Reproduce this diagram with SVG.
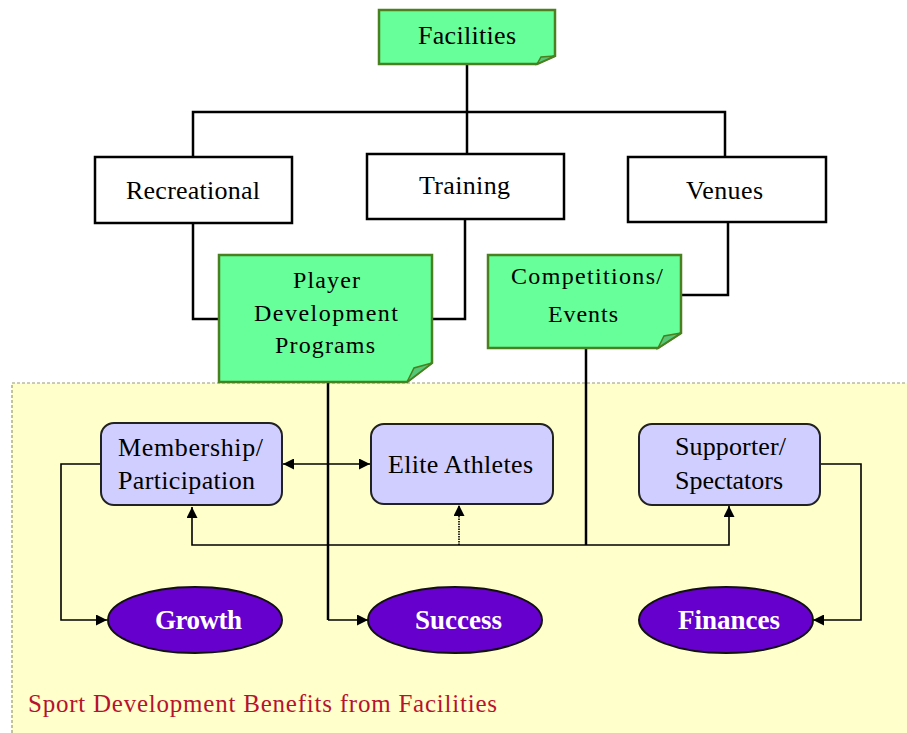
<svg xmlns="http://www.w3.org/2000/svg" width="907" height="733" viewBox="0 0 907 733">
  <style>
    .lbl { font-family: "Liberation Serif", "Times New Roman", serif; font-size: 26px; fill: #000; }
    .sm { font-size: 24px; }
    .oval-lbl { font-family: "Liberation Serif", "Times New Roman", serif; font-size: 27px; font-weight: bold; fill: #fff; }
    .cap { font-family: "Liberation Serif", "Times New Roman", serif; font-size: 25px; fill: #b8122e; }
    .plain { fill: #fff; stroke: #000; stroke-width: 2.5; }
    .note { fill: #66ff99; stroke: #4a8020; stroke-width: 2.5; stroke-linejoin: miter; }
    .fold { fill: #55c878; stroke: #4a8020; stroke-width: 1.5; }
    .soft { fill: #d0ceff; stroke: #222; stroke-width: 2; }
    .oval { fill: #6600cc; stroke: #111; stroke-width: 2; }
    .wire { fill: none; stroke: #000; stroke-width: 2.5; }
    .thin { fill: none; stroke: #000; stroke-width: 1.6; }
  </style>
  <defs>
    <marker id="arrow" viewBox="0 0 10 10" refX="10" refY="5" markerWidth="12" markerHeight="11" markerUnits="userSpaceOnUse" orient="auto-start-reverse">
      <path d="M0,0 L10,5 L0,10 z" fill="#000"/>
    </marker>
  </defs>

  <rect width="907" height="733" fill="#fff"/>

  <!-- benefits panel -->
  <rect id="panel" x="12" y="383" width="905" height="360" fill="#ffffcc" stroke="#999977" stroke-width="1.2" stroke-dasharray="3 2"/>

  <g id="connectors">
    <!-- upper tree -->
    <path class="wire" d="M467,64 V154"/>
    <path class="wire" d="M193,157 V112 H725 V157"/>
    <path class="wire" d="M193,223 V319 H220"/>
    <path class="wire" d="M465,219 V319 H432"/>
    <path class="wire" d="M728,222 V295 H681"/>
    <!-- programs / events drops -->
    <path class="wire" d="M328,382 V620" stroke-width="2"/>
    <path class="thin" d="M328,620 H368" marker-end="url(#arrow)"/>
    <path class="wire" d="M586,348 V545" stroke-width="2"/>
    <!-- membership to elite -->
    <path class="thin" d="M283,464 H370" marker-start="url(#arrow)" marker-end="url(#arrow)"/>
    <!-- shared feed -->
    <path class="thin" d="M192,507 V545 H729 V506" marker-start="url(#arrow)" marker-end="url(#arrow)"/>
    <path class="thin" d="M459,545 V505" stroke-dasharray="1.5 1" marker-end="url(#arrow)"/>
    <!-- outcomes -->
    <path class="thin" d="M101,464 H61 V620 H107" marker-end="url(#arrow)"/>
    <path class="thin" d="M820,464 H861 V620 H813" marker-end="url(#arrow)"/>
  </g>

  <g id="facilities">
    <path class="note" d="M379,10 H555 V56 L537,64 H379 Z"/>
    <path class="fold" d="M537,64 L541,57 L555,56 Z"/>
    <text class="lbl" x="418" y="44" textLength="98">Facilities</text>
  </g>

  <g id="recreational">
    <rect class="plain" x="95" y="157" width="197" height="66"/>
    <text class="lbl" x="126" y="199" textLength="134">Recreational</text>
  </g>

  <g id="training">
    <rect class="plain" x="367" y="154" width="197" height="65"/>
    <text class="lbl" x="419" y="194" textLength="91">Training</text>
  </g>

  <g id="venues">
    <rect class="plain" x="628" y="157" width="198" height="65"/>
    <text class="lbl" x="686" y="199" textLength="77">Venues</text>
  </g>

  <g id="programs">
    <path class="note" d="M219,255 H432 V363 L407,382 H219 Z"/>
    <path class="fold" d="M407,382 L414,368 L432,363 Z"/>
    <text class="lbl sm" x="293" y="288" textLength="67">Player</text>
    <text class="lbl sm" x="254" y="321" textLength="144">Development</text>
    <text class="lbl sm" x="275" y="353" textLength="100">Programs</text>
  </g>

  <g id="events">
    <path class="note" d="M488,255 H681 V333 L658,348 H488 Z"/>
    <path class="fold" d="M658,348 L664,336 L681,333 Z"/>
    <text class="lbl sm" x="511" y="284" textLength="152">Competitions/</text>
    <text class="lbl sm" x="548" y="322" textLength="70">Events</text>
  </g>

  <g id="membership">
    <rect class="soft" x="101" y="423" width="181" height="82" rx="13"/>
    <text class="lbl" x="118" y="456" textLength="145">Membership/</text>
    <text class="lbl" x="118" y="489" textLength="137">Participation</text>
  </g>

  <g id="elite">
    <rect class="soft" x="371" y="424" width="182" height="80" rx="13"/>
    <text class="lbl" x="388" y="473" textLength="145">Elite Athletes</text>
  </g>

  <g id="supporters">
    <rect class="soft" x="639" y="424" width="181" height="81" rx="13"/>
    <text class="lbl" x="675" y="455" textLength="111">Supporter/</text>
    <text class="lbl" x="675" y="489" textLength="108">Spectators</text>
  </g>

  <g id="growth">
    <ellipse class="oval" cx="195" cy="620" rx="87" ry="33"/>
    <text class="oval-lbl" x="155" y="629" textLength="87">Growth</text>
  </g>

  <g id="success">
    <ellipse class="oval" cx="455" cy="620" rx="87" ry="33"/>
    <text class="oval-lbl" x="415" y="629" textLength="87">Success</text>
  </g>

  <g id="finances">
    <ellipse class="oval" cx="726" cy="620" rx="87" ry="33"/>
    <text class="oval-lbl" x="678" y="629" textLength="102">Finances</text>
  </g>

  <text id="caption" class="cap" x="28" y="712" textLength="469">Sport Development Benefits from Facilities</text>
</svg>
